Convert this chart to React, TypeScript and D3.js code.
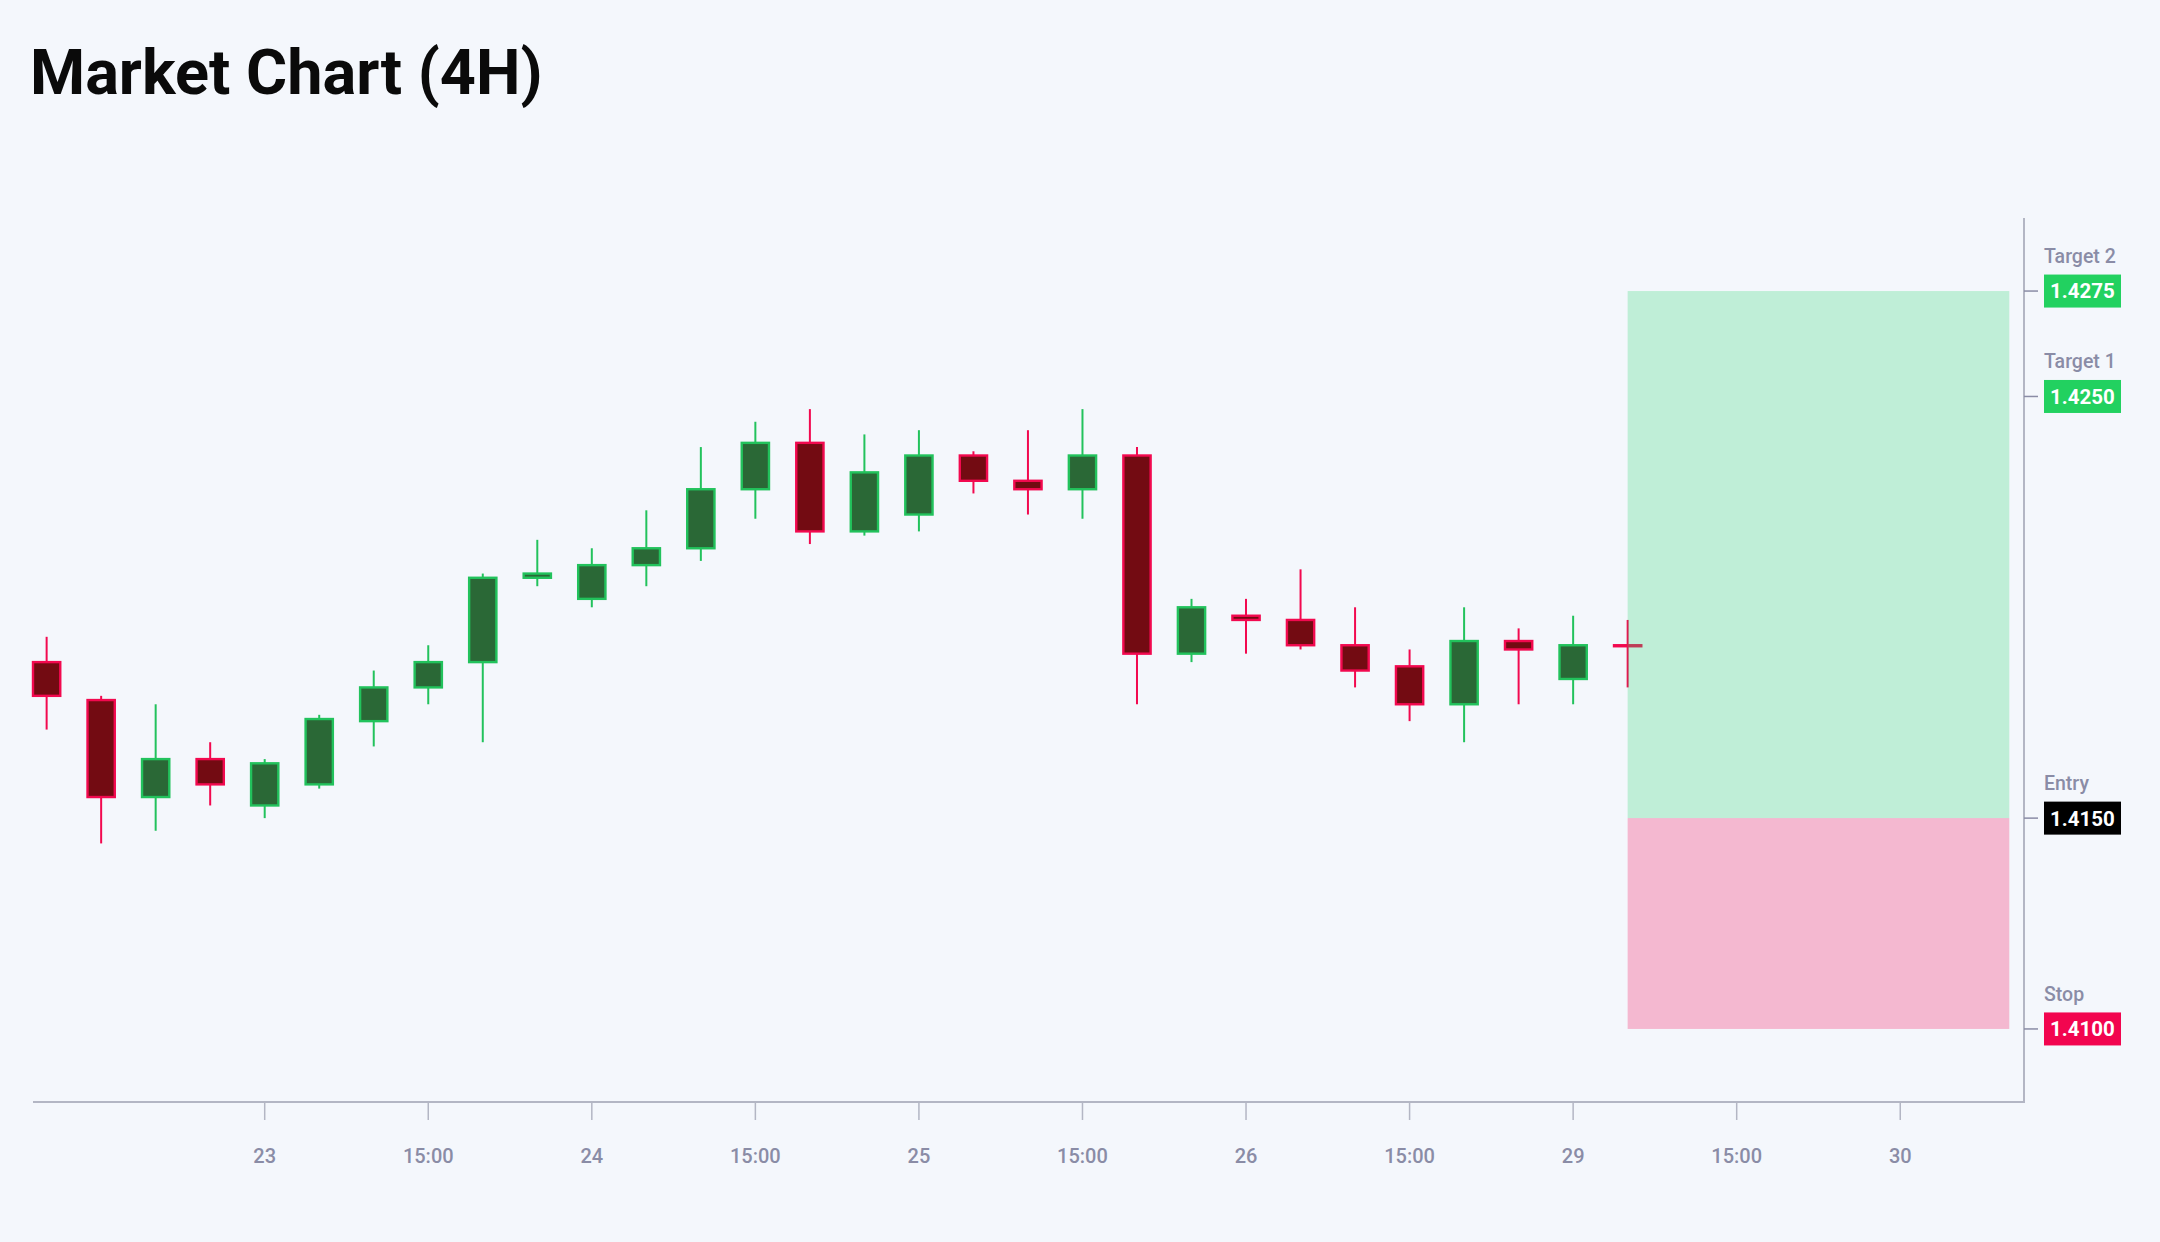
import { useEffect, useRef } from "react";
import * as d3 from "d3";

// 4H candles
const opens = [1.4187, 1.4178, 1.4155, 1.4164, 1.4153, 1.4158, 1.4173, 1.4181, 1.4187, 1.4207, 1.4202, 1.4210, 1.4214, 1.4228, 1.4239, 1.4218, 1.4222, 1.4236, 1.4230, 1.4228, 1.4236, 1.4189, 1.4198, 1.4197, 1.4191, 1.4186, 1.4177, 1.4192, 1.4183, 1.4191];
const highs = [1.4193, 1.4179, 1.4177, 1.4168, 1.4164, 1.41745, 1.4185, 1.4191, 1.4208, 1.4216, 1.4214, 1.4223, 1.4238, 1.4244, 1.4247, 1.4241, 1.4242, 1.4237, 1.4242, 1.4247, 1.4238, 1.4202, 1.4202, 1.4209, 1.4200, 1.4190, 1.4200, 1.4195, 1.4198, 1.4197];
const lows = [1.4171, 1.4144, 1.4147, 1.4153, 1.4150, 1.4157, 1.4167, 1.4177, 1.4168, 1.4205, 1.4200, 1.4205, 1.4211, 1.4221, 1.4215, 1.4217, 1.4218, 1.4227, 1.4222, 1.4221, 1.4177, 1.4187, 1.4189, 1.4190, 1.4181, 1.4173, 1.4168, 1.4177, 1.4177, 1.4181];
const closes = [1.4179, 1.4155, 1.4164, 1.4158, 1.4163, 1.41735, 1.4181, 1.4187, 1.4207, 1.4208, 1.4210, 1.4214, 1.4228, 1.4239, 1.4218, 1.4232, 1.4236, 1.4230, 1.4228, 1.4236, 1.4189, 1.4200, 1.4197, 1.4191, 1.4185, 1.4177, 1.4192, 1.4190, 1.4191, 1.4191];
// last candle is a doji printed in red
const downFlags = [true, true, false, true, false, false, false, false, false, false, false, false, false, false, true, false, false, true, true, false, true, false, true, true, true, true, false, true, false, true];

// x axis: candle index of each label
const tickIndex = [4, 7, 10, 13, 16, 19, 22, 25, 28, 31, 34];
const tickLabels = ["23", "15:00", "24", "15:00", "25", "15:00", "26", "15:00", "29", "15:00", "30"];

// trade levels
const levelNames = ["Target 2", "Target 1", "Entry", "Stop"];
const levelValues = [1.4275, 1.425, 1.415, 1.41];
const levelColors = ["#22d160", "#22d160", "#000000", "#f2054f"];

// projection zone runs from the last candle to this index
const zoneEndIndex = 36;

const W = 2160;
const H = 1242;

const App = () => {
    const svgRef = useRef<SVGSVGElement>(null);

    useEffect(() => {
        if (!svgRef.current) return;
        const svg = d3.select(svgRef.current);
        svg.selectAll("*").remove();

        const left = 33;
        const right = 2024;
        const top = 218;
        const bottom = 1102;

        const x = d3.scaleLinear().domain([-0.25, 36.27]).range([left, right]);
        const pad = (levelValues[0] - levelValues[3]) * 0.099;
        const y = d3
            .scaleLinear()
            .domain([levelValues[3] - pad, levelValues[0] + pad])
            .range([bottom, top]);

        const step = x(1) - x(0);
        const bodyW = step * 0.5;

        svg.append("rect").attr("width", W).attr("height", H).attr("fill", "#f4f7fc");

        // Title
        svg.append("text")
            .attr("x", 30)
            .attr("y", 94)
            .attr("font-family", "Roboto, sans-serif")
            .attr("font-weight", 700)
            .attr("font-size", 63)
            .attr("fill", "#0a0a0a")
            .text("Market Chart (4H)");

        const g = svg.append("g");
        const last = opens.length - 1;

        // Candles
        opens.forEach((o, i) => {
            const c = closes[i];
            const down = downFlags[i];
            const stroke = down ? "#f2094f" : "#22c25c";
            const fill = down ? "#730b12" : "#2a6836";
            const cx = x(i);
            g.append("line")
                .attr("x1", cx)
                .attr("x2", cx)
                .attr("y1", y(highs[i]))
                .attr("y2", y(lows[i]))
                .attr("stroke", stroke)
                .attr("stroke-width", 2);
            const yTop = y(Math.max(o, c));
            const yBot = y(Math.min(o, c));
            g.append("rect")
                .attr("x", cx - bodyW / 2)
                .attr("y", yTop)
                .attr("width", bodyW)
                .attr("height", Math.max(yBot - yTop, 1))
                .attr("fill", fill)
                .attr("stroke", stroke)
                .attr("stroke-width", 2.4);
        });

        // Reward / risk zone over the chart
        const zx0 = x(last);
        const zx1 = x(zoneEndIndex);
        g.append("rect")
            .attr("x", zx0)
            .attr("y", y(levelValues[0]))
            .attr("width", zx1 - zx0)
            .attr("height", y(levelValues[2]) - y(levelValues[0]))
            .attr("fill", "rgba(38, 212, 110, 0.26)");
        g.append("rect")
            .attr("x", zx0)
            .attr("y", y(levelValues[2]))
            .attr("width", zx1 - zx0)
            .attr("height", y(levelValues[3]) - y(levelValues[2]))
            .attr("fill", "rgba(242, 5, 80, 0.26)");

        // Axes
        const axisColor = "#b3b6c4";
        svg.append("line")
            .attr("x1", left)
            .attr("x2", right)
            .attr("y1", bottom)
            .attr("y2", bottom)
            .attr("stroke", axisColor)
            .attr("stroke-width", 2);
        svg.append("line")
            .attr("x1", right)
            .attr("x2", right)
            .attr("y1", top)
            .attr("y2", bottom + 1)
            .attr("stroke", axisColor)
            .attr("stroke-width", 2);

        tickIndex.forEach((t, k) => {
            const tx = x(t);
            svg.append("line")
                .attr("x1", tx)
                .attr("x2", tx)
                .attr("y1", bottom)
                .attr("y2", bottom + 18)
                .attr("stroke", axisColor)
                .attr("stroke-width", 1.5);
            svg.append("text")
                .attr("x", tx)
                .attr("y", 1163)
                .attr("text-anchor", "middle")
                .attr("font-family", "Roboto, sans-serif")
                .attr("font-weight", 500)
                .attr("font-size", 20)
                .attr("fill", "#8a8ca6")
                .text(tickLabels[k]);
        });

        // Level labels on the right axis
        levelValues.forEach((v, k) => {
            const ly = y(v);
            svg.append("line")
                .attr("x1", right)
                .attr("x2", right + 14)
                .attr("y1", ly)
                .attr("y2", ly)
                .attr("stroke", "#8a8ca6")
                .attr("stroke-width", 1.5);
            svg.append("text")
                .attr("x", 2044)
                .attr("y", ly - 28)
                .attr("font-family", "Roboto, sans-serif")
                .attr("font-weight", 500)
                .attr("font-size", 19.5)
                .attr("fill", "#8a8ca6")
                .text(levelNames[k]);
            svg.append("rect")
                .attr("x", 2044)
                .attr("y", ly - 16.5)
                .attr("width", 77)
                .attr("height", 33)
                .attr("fill", levelColors[k]);
            svg.append("text")
                .attr("x", 2082.5)
                .attr("y", ly)
                .attr("dy", "0.36em")
                .attr("text-anchor", "middle")
                .attr("font-family", "Roboto, sans-serif")
                .attr("font-weight", 700)
                .attr("font-size", 20.5)
                .attr("fill", "#ffffff")
                .text(v.toFixed(4));
        });
    }, []);

    return (
        <svg
            ref={svgRef}
            width={W}
            height={H}
            style={{ position: "absolute", top: 0, left: 0, display: "block" }}
        />
    );
};

export default App;
